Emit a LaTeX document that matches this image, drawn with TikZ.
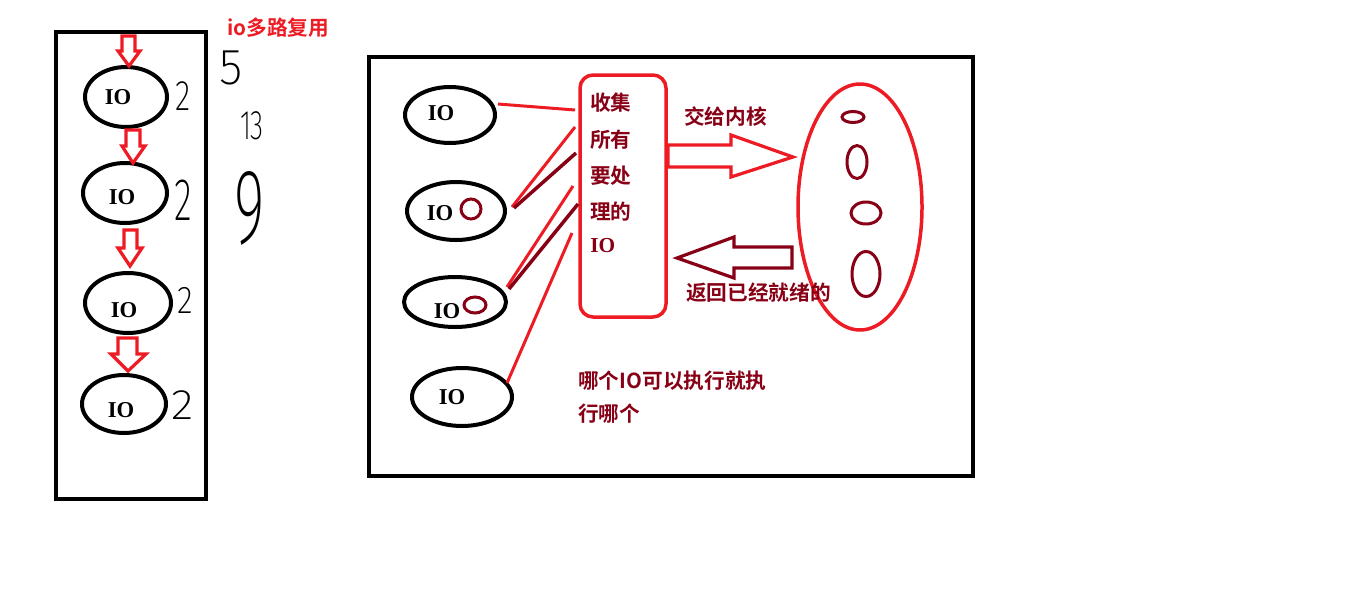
\documentclass[tikz,border=0pt]{standalone}
\usepackage{fontspec}
\usetikzlibrary{shapes.geometric}
\setmainfont{Liberation Serif}
\newfontfamily\cjk{Noto Sans CJK SC}[BoldFont={Noto Sans CJK SC Bold}]
\IfFontExistsTF{Fira Sans ExtraLight}{\newfontfamily\hand{Fira Sans ExtraLight}}{%
 \IfFontExistsTF{Fira Sans Light}{\newfontfamily\hand{Fira Sans Light}}{%
  \IfFontExistsTF{Lato Hairline}{\newfontfamily\hand{Lato Hairline}}{%
   \IfFontExistsTF{Poppins ExtraLight}{\newfontfamily\hand{Poppins ExtraLight}}{%
    \IfFontExistsTF{Lato Light}{\newfontfamily\hand{Lato Light}}{%
     \IfFontExistsTF{Open Sans Light}{\newfontfamily\hand{Open Sans Light}}{%
      \newfontfamily\hand{Fira Sans}}}}}}}
\definecolor{pred}{RGB}{237,28,36}
\definecolor{pdark}{RGB}{136,0,21}
\newdimen\pxu \pxu=0.75pt
\tikzset{
  ioell/.style={ellipse, draw=black, line width=4\pxu, inner sep=0pt},
  iotext/.style={font=\fontsize{17pt}{17pt}\selectfont\bfseries, text=black, inner sep=0pt},
  small/.style={ellipse, draw=pdark, line width=3\pxu, inner sep=0pt},
  frame/.style={draw=black, line width=4\pxu, inner sep=0pt},
  redline/.style={draw=pred, line width=3\pxu},
  darkline/.style={draw=pdark, line width=3.5\pxu},
  cjktext/.style={font=\cjk\bfseries\fontsize{15.5pt}{15.5pt}\selectfont, text=pdark, inner sep=0pt, anchor=west},
  handtext/.style={font=\hand\fontsize{#1}{#1}\selectfont, text=black, inner sep=0pt},
  downarrow/.style={draw=pred, line width=3.2\pxu, line join=miter},
}
\begin{document}
\begin{tikzpicture}[x=0.75pt,y=-0.75pt]
\useasboundingbox (0,0) rectangle (1358,600);
% ---------- left panel ----------
\node[frame, minimum width=150\pxu, minimum height=467\pxu] (lbox) at (131,265.5) {};
\node[font=\cjk\bfseries\fontsize{15.5pt}{15.5pt}\selectfont, text=pred, inner sep=0pt, anchor=west] (title) at (227,28) {io多路复用};

\node[ioell, minimum width=82\pxu, minimum height=60\pxu] (l1) at (126,97) {};
\node[ioell, minimum width=84\pxu, minimum height=60\pxu] (l2) at (125,193) {};
\node[ioell, minimum width=86\pxu, minimum height=60\pxu] (l3) at (128,303) {};
\node[ioell, minimum width=84\pxu, minimum height=58\pxu] (l4) at (124,404) {};
\node[iotext] (t1) at (118,97) {IO};
\node[iotext] (t2) at (122,197) {IO};
\node[iotext] (t3) at (124,310) {IO};
\node[iotext] (t4) at (121,410) {IO};

% down arrows
\draw[downarrow] (122,36) -- (135,36) -- (135,51) -- (140,51) -- (129,66) -- (118,51) -- (122,51) -- cycle;
\draw[downarrow] (126,130) -- (140,130) -- (140,146) -- (145,146) -- (133,163) -- (122,146) -- (126,146) -- cycle;
\draw[downarrow] (124,230) -- (137,230) -- (137,248) -- (142,248) -- (130,266) -- (118,248) -- (124,248) -- cycle;
\draw[downarrow] (118,338) -- (137,338) -- (137,354) -- (146,354) -- (128,371) -- (111,354) -- (118,354) -- cycle;

% handwritten numbers
\node[handtext=32pt, xscale=0.75] (n1) at (183,96) {2};
\node[handtext=45pt, xscale=0.62] (n2) at (183,200) {2};
\node[handtext=29pt, xscale=0.85] (n3) at (185,300) {2};
\node[handtext=32pt, xscale=1.1] (n4) at (183,405) {2};
\node[handtext=38pt, xscale=0.95] (n5) at (231,68) {5};
\node[handtext=31pt, xscale=0.65] (n13) at (252,126) {13};
\node[handtext=80pt, xscale=0.55] (n9) at (250,208) {9};

% ---------- middle panel ----------
\node[frame, minimum width=604\pxu, minimum height=419\pxu] (mbox) at (671,266.5) {};

\node[ioell, minimum width=90\pxu, minimum height=56\pxu] (m1) at (450,115) {};
\node[ioell, minimum width=98\pxu, minimum height=58\pxu] (m2) at (456,211) {};
\node[ioell, minimum width=102\pxu, minimum height=50\pxu] (m3) at (455,302) {};
\node[ioell, minimum width=100\pxu, minimum height=58\pxu] (m4) at (462,397) {};
\node[iotext] (mt1) at (441,113) {IO};
\node[iotext] (mt2) at (440,213) {IO};
\node[iotext] (mt3) at (447,311) {IO};
\node[iotext] (mt4) at (452,397) {IO};
\node[small, minimum width=20\pxu, minimum height=20\pxu] (s2) at (471,209) {};
\node[small, minimum width=22\pxu, minimum height=16\pxu] (s3) at (475,305) {};

% collecting box
\node[draw=pred, line width=3.5\pxu, rounded corners=13\pxu, minimum width=86\pxu, minimum height=242\pxu, inner sep=0pt] (collect) at (623,196) {};
\node[cjktext] (c1) at (590,103) {收集};
\node[cjktext] (c2) at (590,140) {所有};
\node[cjktext] (c3) at (590,176) {要处};
\node[cjktext] (c4) at (590,212) {理的};
\node[cjktext, font=\bfseries\fontsize{16pt}{16pt}\selectfont] (c5) at (590,246) {IO};

% connector end points on the box side
\coordinate (e1) at (575,110);
\coordinate (e2a) at (575,127);
\coordinate (e2b) at (576,153);
\coordinate (e3a) at (573,186);
\coordinate (e3b) at (578,204);
\coordinate (e4) at (572,233);
\coordinate (b2) at (512,207);
\coordinate (b2d) at (514,208);
\coordinate (b3) at (507,287);
\coordinate (b3d) at (509,289);
\coordinate (b4) at (507,383);
\coordinate (b1) at (498,104);
\draw[redline] (b1) -- (e1);
\draw[redline] (b2) -- (e2a);
\draw[darkline] (b2d) -- (e2b);
\draw[redline] (b3) -- (e3a);
\draw[darkline] (b3d) -- (e3b);
\draw[redline] (b4) -- (e4);

% kernel ellipse
\node[ellipse, draw=pred, line width=3.5\pxu, minimum width=124\pxu, minimum height=246\pxu, inner sep=0pt] (kernel) at (860,207) {};
\node[small, minimum width=22\pxu, minimum height=11\pxu] (k1) at (853,117) {};
\node[small, minimum width=20\pxu, minimum height=33\pxu] (k2) at (857,162) {};
\node[small, minimum width=30\pxu, minimum height=22\pxu] (k3) at (866,213) {};
\node[small, minimum width=28\pxu, minimum height=45\pxu] (k4) at (866,274) {};

% hollow arrows
\draw[draw=pred, line width=3.2\pxu, line join=miter] (668,145) -- (731,145) -- (731,135) -- (793,157) -- (731,177) -- (731,167) -- (668,167) -- cycle;
\draw[draw=pdark, line width=3.2\pxu, line join=miter] (677,258) -- (734,237) -- (734,247) -- (792,247) -- (792,268) -- (734,268) -- (734,278) -- cycle;
\node[cjktext] (give) at (684,117) {交给内核};
\node[cjktext] (ret) at (686,293) {返回已经就绪的};

% bottom note
\node[cjktext] (note1) at (578,381) {哪个{\bfseries IO}可以执行就执};
\node[cjktext] (note2) at (578,414) {行哪个};
\end{tikzpicture}
\end{document}
